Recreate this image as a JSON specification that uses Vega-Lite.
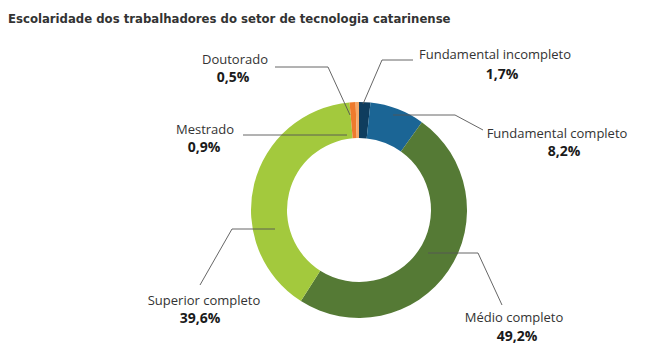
{
  "$schema": "https://vega.github.io/schema/vega-lite/v6.json",
  "width": 665,
  "height": 354,
  "padding": 0,
  "autosize": {"type": "fit", "contains": "padding"},
  "background": "white",
  "config": {"view": {"stroke": null}},
  "datasets": {
    "slices": [
      {"categoria": "Fundamental incompleto", "pct": 1.7, "ord": 1},
      {"categoria": "Fundamental completo", "pct": 8.2, "ord": 2},
      {"categoria": "Médio completo", "pct": 49.2, "ord": 3},
      {"categoria": "Superior completo", "pct": 39.6, "ord": 4},
      {"categoria": "Mestrado", "pct": 0.9, "ord": 5},
      {"categoria": "Doutorado", "pct": 0.5, "ord": 6}
    ],
    "leaders": [
      {"seg": "Doutorado", "i": 0, "px": 275, "py": 67},
      {"seg": "Doutorado", "i": 1, "px": 328, "py": 67},
      {"seg": "Doutorado", "i": 2, "px": 350, "py": 115},
      {"seg": "Mestrado", "i": 0, "px": 243, "py": 135},
      {"seg": "Mestrado", "i": 1, "px": 347, "py": 135},
      {"seg": "Fundamental incompleto", "i": 0, "px": 413, "py": 60},
      {"seg": "Fundamental incompleto", "i": 1, "px": 382, "py": 60},
      {"seg": "Fundamental incompleto", "i": 2, "px": 363, "py": 104},
      {"seg": "Fundamental completo", "i": 0, "px": 393, "py": 115},
      {"seg": "Fundamental completo", "i": 1, "px": 455, "py": 115},
      {"seg": "Fundamental completo", "i": 2, "px": 483, "py": 130},
      {"seg": "Superior completo", "i": 0, "px": 275, "py": 229},
      {"seg": "Superior completo", "i": 1, "px": 232, "py": 229},
      {"seg": "Superior completo", "i": 2, "px": 200, "py": 285},
      {"seg": "Médio completo", "i": 0, "px": 428, "py": 253},
      {"seg": "Médio completo", "i": 1, "px": 478, "py": 253},
      {"seg": "Médio completo", "i": 2, "px": 502, "py": 305}
    ],
    "labels": [
      {"nome": "Doutorado", "valor": "0,5%", "nx": 235, "ny": 60, "vx": 233, "vy": 78},
      {"nome": "Mestrado", "valor": "0,9%", "nx": 205, "ny": 130, "vx": 204, "vy": 148},
      {"nome": "Fundamental incompleto", "valor": "1,7%", "nx": 495, "ny": 55, "vx": 502, "vy": 75},
      {"nome": "Fundamental completo", "valor": "8,2%", "nx": 557, "ny": 134, "vx": 564, "vy": 152},
      {"nome": "Superior completo", "valor": "39,6%", "nx": 204, "ny": 301, "vx": 200, "vy": 319},
      {"nome": "Médio completo", "valor": "49,2%", "nx": 514, "ny": 318, "vx": 517, "vy": 337}
    ],
    "titulo": [
      {"texto": "Escolaridade dos trabalhadores do setor de tecnologia catarinense", "tx": 8, "ty": 19}
    ]
  },
  "layer": [
    {
      "data": {"name": "slices"},
      "mark": {"type": "arc", "radius": 108, "radius2": 72, "stroke": null},
      "encoding": {
        "x": {"datum": 359, "type": "quantitative", "scale": {"domain": [0, 665]}, "axis": null},
        "y": {"datum": 210, "type": "quantitative", "scale": {"domain": [0, 354], "reverse": true}, "axis": null},
        "theta": {"field": "pct", "type": "quantitative", "stack": true},
        "order": {"field": "ord", "type": "quantitative"},
        "color": {
          "field": "categoria", "type": "nominal", "legend": null,
          "scale": {
            "domain": ["Fundamental incompleto", "Fundamental completo", "Médio completo", "Superior completo", "Mestrado", "Doutorado"],
            "range": ["#0f3d5e", "#1b6595", "#557a35", "#a3c93d", "#ee7a2d", "#f6a868"]
          }
        }
      }
    },
    {
      "data": {"name": "leaders"},
      "mark": {"type": "line", "color": "#555555", "strokeWidth": 0.9},
      "encoding": {
        "x": {"field": "px", "type": "quantitative", "scale": {"domain": [0, 665]}, "axis": null},
        "y": {"field": "py", "type": "quantitative", "scale": {"domain": [0, 354], "reverse": true}, "axis": null},
        "detail": {"field": "seg"},
        "order": {"field": "i"}
      }
    },
    {
      "data": {"name": "labels"},
      "mark": {"type": "text", "font": "Open Sans", "fontSize": 13, "color": "#333333", "align": "center", "baseline": "middle"},
      "encoding": {
        "x": {"field": "nx", "type": "quantitative", "scale": {"domain": [0, 665]}, "axis": null},
        "y": {"field": "ny", "type": "quantitative", "scale": {"domain": [0, 354], "reverse": true}, "axis": null},
        "text": {"field": "nome"}
      }
    },
    {
      "data": {"name": "labels"},
      "mark": {"type": "text", "font": "Open Sans", "fontSize": 14, "fontWeight": "bold", "color": "#1a1a1a", "align": "center", "baseline": "middle"},
      "encoding": {
        "x": {"field": "vx", "type": "quantitative", "scale": {"domain": [0, 665]}, "axis": null},
        "y": {"field": "vy", "type": "quantitative", "scale": {"domain": [0, 354], "reverse": true}, "axis": null},
        "text": {"field": "valor"}
      }
    },
    {
      "data": {"name": "titulo"},
      "mark": {"type": "text", "font": "DejaVu Sans Condensed, Roboto", "fontSize": 13, "fontWeight": "bold", "color": "#333333", "align": "left", "baseline": "middle"},
      "encoding": {
        "x": {"field": "tx", "type": "quantitative", "scale": {"domain": [0, 665]}, "axis": null},
        "y": {"field": "ty", "type": "quantitative", "scale": {"domain": [0, 354], "reverse": true}, "axis": null},
        "text": {"field": "texto"}
      }
    }
  ]
}
